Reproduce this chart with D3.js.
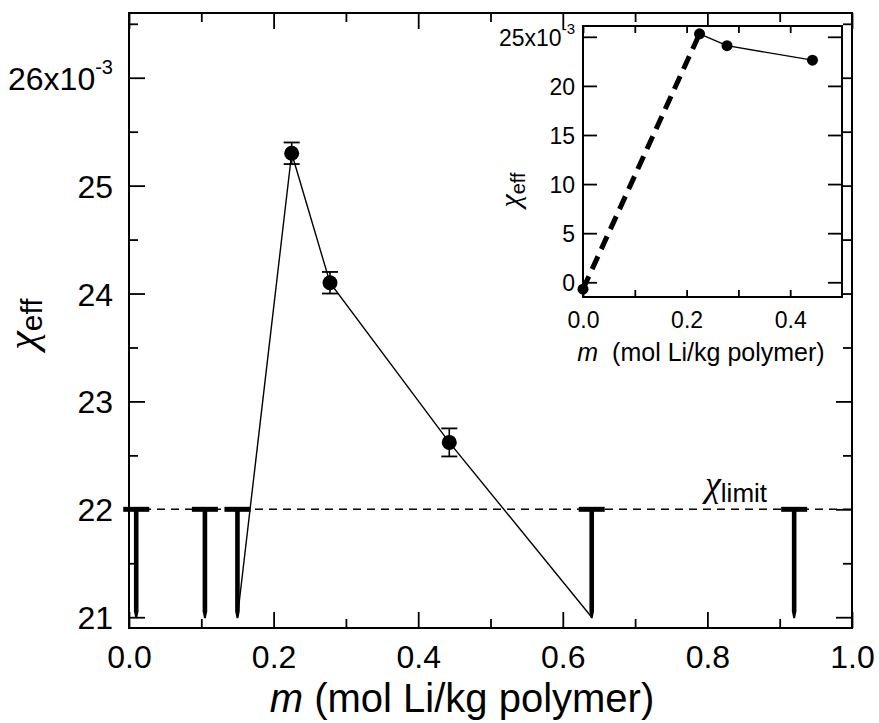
<!DOCTYPE html>
<html><head><meta charset="utf-8">
<script src="https://cdn.jsdelivr.net/npm/d3@7"></script>
<style>
body{margin:0;background:#fff}
svg{display:block}
text{font-family:"Liberation Sans",Arial,sans-serif;fill:#000}
</style>
</head><body>
<svg id="chart" width="879" height="723"></svg>
<script>
// Effective interaction parameter chi_eff (x 1e-3) versus salt molality m
const measM   = [0.225, 0.278, 0.443];
const measChi = [25.3, 24.1, 22.62];
const measErr = [0.10, 0.10, 0.13];

// Guide line through the measured points, ending on the limit markers
const curveM   = [0.15, 0.225, 0.278, 0.443, 0.64];
const curveChi = [21.0, 25.3, 24.1, 22.62, 21.0];

// Compositions where only an upper bound (chi_limit) is known
const limitM = [0.01, 0.105, 0.15, 0.64, 0.92];
const chiLimit = 22;
const limitFloor = 21;

// Inset: full range including the salt-free polymer
const insetM   = [0.0, 0.225, 0.278, 0.443];
const insetChi = [-0.7, 25.3, 24.1, 22.62];

// Tick values
const xTicksMain  = [0, 0.2, 0.4, 0.6, 0.8, 1.0];
const xMinorMain  = [0.1, 0.3, 0.5, 0.7, 0.9];
const yTicksMain  = [21, 22, 23, 24, 25, 26];
const yMinorMain  = [21.5, 22.5, 23.5, 24.5, 25.5, 26.5];
const xTicksInset = [0, 0.1, 0.2, 0.3, 0.4];
const xLabelsInset = [0, 0.2, 0.4];
const yTicksInset = [0, 5, 10, 15, 20, 25];

const svg = d3.select("#chart");
const serif = '"Liberation Serif","DejaVu Serif",serif';

// ---------- main panel ----------
const x = d3.scaleLinear().domain([0, 1]).range([129, 852]);
const y = d3.scaleLinear().domain([20.9, 26.6]).range([628, 13]);
const f1 = d3.format(".1f");

function styleAxis(g, size) {
  g.select(".domain").remove();
  g.selectAll(".tick line").attr("stroke", "#000").attr("stroke-width", 1.8);
  g.selectAll(".tick text").attr("font-size", size).attr("fill", "#000")
    .style("font-family", '"Liberation Sans",Arial,sans-serif');
}

// left: major ticks with labels, minor ticks
const gl = svg.append("g").attr("transform", `translate(${x(0)},0)`)
  .call(d3.axisLeft(y).tickValues(yTicksMain).tickSize(-16).tickPadding(16).tickFormat(d => d));
styleAxis(gl, 32);
gl.selectAll(".tick text").attr("dy", "0.36em");
gl.selectAll(".tick text").filter(d => d === 26).each(function () {
  const t = d3.select(this).text("");
  t.append("tspan").text("26x10");
  t.append("tspan").attr("font-size", 20).attr("dy", -16).text("-3");
});
styleAxis(svg.append("g").attr("transform", `translate(${x(0)},0)`)
  .call(d3.axisLeft(y).tickValues(yMinorMain).tickSize(-9).tickFormat("")), 32);

// right mirror
styleAxis(svg.append("g").attr("transform", `translate(${x(1)},0)`)
  .call(d3.axisRight(y).tickValues(yTicksMain).tickSize(-16).tickFormat("")), 32);
styleAxis(svg.append("g").attr("transform", `translate(${x(1)},0)`)
  .call(d3.axisRight(y).tickValues(yMinorMain).tickSize(-9).tickFormat("")), 32);

// bottom
styleAxis(svg.append("g").attr("transform", `translate(0,${y(20.9)})`)
  .call(d3.axisBottom(x).tickValues(xTicksMain).tickSize(-16).tickPadding(17).tickFormat(f1)), 32);
styleAxis(svg.append("g").attr("transform", `translate(0,${y(20.9)})`)
  .call(d3.axisBottom(x).tickValues(xMinorMain).tickSize(-9).tickFormat("")), 32);

// top mirror
styleAxis(svg.append("g").attr("transform", `translate(0,${y(26.6)})`)
  .call(d3.axisTop(x).tickValues(xTicksMain).tickSize(-16).tickFormat("")), 32);
styleAxis(svg.append("g").attr("transform", `translate(0,${y(26.6)})`)
  .call(d3.axisTop(x).tickValues(xMinorMain).tickSize(-9).tickFormat("")), 32);

// frame
svg.append("rect").attr("x", x(0)).attr("y", y(26.6))
  .attr("width", x(1) - x(0)).attr("height", y(20.9) - y(26.6))
  .attr("fill", "none").attr("stroke", "#000").attr("stroke-width", 2);

// chi_limit dashed reference line
svg.append("line").attr("x1", x(0)).attr("x2", x(1))
  .attr("y1", y(chiLimit)).attr("y2", y(chiLimit))
  .attr("stroke", "#000").attr("stroke-width", 1.5).attr("stroke-dasharray", "8,6");

// guide line
svg.append("path").datum(d3.zip(curveM, curveChi))
  .attr("d", d3.line().x(d => x(d[0])).y(d => y(d[1])))
  .attr("fill", "none").attr("stroke", "#000").attr("stroke-width", 1.4);

// upper-bound markers: thick T from chi_limit down to the floor
const lim = svg.append("g");
limitM.forEach(m => {
  const cx = x(m), yt = y(chiLimit), yb = y(limitFloor) + 1;
  lim.append("path")
    .attr("d", `M${cx - 2.3},${yt} L${cx + 2.3},${yt} L${cx + 2.3},${yb - 7} L${cx + 0.9},${yb} L${cx - 0.9},${yb} L${cx - 2.3},${yb - 7} Z`)
    .attr("fill", "#000");
  lim.append("line").attr("x1", cx - 13).attr("x2", cx + 13)
    .attr("y1", yt).attr("y2", yt).attr("stroke", "#000").attr("stroke-width", 5);
});

// error bars and measured points
const pts = svg.append("g");
measM.forEach((m, i) => {
  const cx = x(m), lo = y(measChi[i] - measErr[i]), hi = y(measChi[i] + measErr[i]);
  pts.append("line").attr("x1", cx).attr("x2", cx).attr("y1", lo).attr("y2", hi)
    .attr("stroke", "#000").attr("stroke-width", 1.6);
  [lo, hi].forEach(v => pts.append("line").attr("x1", cx - 8).attr("x2", cx + 8)
    .attr("y1", v).attr("y2", v).attr("stroke", "#000").attr("stroke-width", 1.8));
  pts.append("circle").attr("cx", cx).attr("cy", y(measChi[i])).attr("r", 7.5).attr("fill", "#000");
});

// chi_limit label
const cl = svg.append("text").attr("x", 705).attr("y", 496);
cl.append("tspan").attr("font-family", serif).attr("font-style", "italic")
  .attr("font-size", 36).text("χ");
cl.append("tspan").attr("font-size", 26).attr("dy", 6).text("limit");

// axis titles
const xt = svg.append("text").attr("x", 462).attr("y", 712)
  .attr("text-anchor", "middle").attr("font-size", 40);
xt.append("tspan").attr("font-style", "italic").text("m");
xt.append("tspan").text(" (mol Li/kg polymer)");

const yt = svg.append("text").attr("transform", "translate(42,324) rotate(-90)")
  .attr("text-anchor", "middle");
yt.append("tspan").attr("font-family", serif).attr("font-style", "italic")
  .attr("font-size", 42).attr("dy", -6).text("χ");
yt.append("tspan").attr("font-size", 30).attr("dy", 6).text("eff");

// ---------- inset ----------
const xi = d3.scaleLinear().domain([0, 0.5]).range([583, 842]);
const yi = d3.scaleLinear().domain([-1.5, 26.1]).range([297, 26]);

svg.append("rect").attr("x", xi(0)).attr("y", yi(26.1))
  .attr("width", xi(0.5) - xi(0)).attr("height", yi(-1.5) - yi(26.1))
  .attr("fill", "#fff").attr("stroke", "none");

const il = svg.append("g").attr("transform", `translate(${xi(0)},0)`)
  .call(d3.axisLeft(yi).tickValues(yTicksInset).tickSize(-14).tickPadding(8).tickFormat(d => d));
styleAxis(il, 23);
il.selectAll(".tick text").attr("dy", "0.36em");
il.selectAll(".tick text").filter(d => d === 25).each(function () {
  const t = d3.select(this).text("");
  t.append("tspan").text("25x10");
  t.append("tspan").attr("font-size", 15).attr("dy", -12).text("-3");
});
styleAxis(svg.append("g").attr("transform", `translate(${xi(0.5)},0)`)
  .call(d3.axisRight(yi).tickValues(yTicksInset).tickSize(-14).tickFormat("")), 23);
styleAxis(svg.append("g").attr("transform", `translate(0,${yi(-1.5)})`)
  .call(d3.axisBottom(xi).tickValues(xTicksInset).tickSize(-7).tickPadding(15)
    .tickFormat(d => xLabelsInset.includes(d) ? f1(d) : "")), 23);
styleAxis(svg.append("g").attr("transform", `translate(0,${yi(26.1)})`)
  .call(d3.axisTop(xi).tickValues(xTicksInset).tickSize(-7).tickFormat("")), 23);

svg.append("rect").attr("x", xi(0)).attr("y", yi(26.1))
  .attr("width", xi(0.5) - xi(0)).attr("height", yi(-1.5) - yi(26.1))
  .attr("fill", "none").attr("stroke", "#000").attr("stroke-width", 2);

const ip = d3.zip(insetM, insetChi);
// dashed extrapolation from the neat polymer to the first salt-containing point
svg.append("path").datum(ip.slice(0, 2))
  .attr("d", d3.line().x(d => xi(d[0])).y(d => yi(d[1])))
  .attr("fill", "none").attr("stroke", "#000").attr("stroke-width", 5).attr("stroke-dasharray", "14,8");
svg.append("path").datum(ip.slice(1))
  .attr("d", d3.line().x(d => xi(d[0])).y(d => yi(d[1])))
  .attr("fill", "none").attr("stroke", "#000").attr("stroke-width", 1.4);
svg.append("g").selectAll("circle").data(ip).join("circle")
  .attr("cx", d => xi(d[0])).attr("cy", d => yi(d[1])).attr("r", 5.5).attr("fill", "#000");

const ixt = svg.append("text").attr("x", 701).attr("y", 361)
  .attr("text-anchor", "middle").attr("font-size", 25);
ixt.append("tspan").attr("font-style", "italic").text("m");
ixt.append("tspan").text("\u00a0 (mol Li/kg polymer)");

const iyt = svg.append("text").attr("transform", "translate(524,190) rotate(-90)")
  .attr("text-anchor", "middle");
iyt.append("tspan").attr("font-family", serif).attr("font-style", "italic")
  .attr("font-size", 30).attr("dy", -4).text("χ");
iyt.append("tspan").attr("font-size", 20).attr("dy", 5).text("eff");
</script>
</body></html>
